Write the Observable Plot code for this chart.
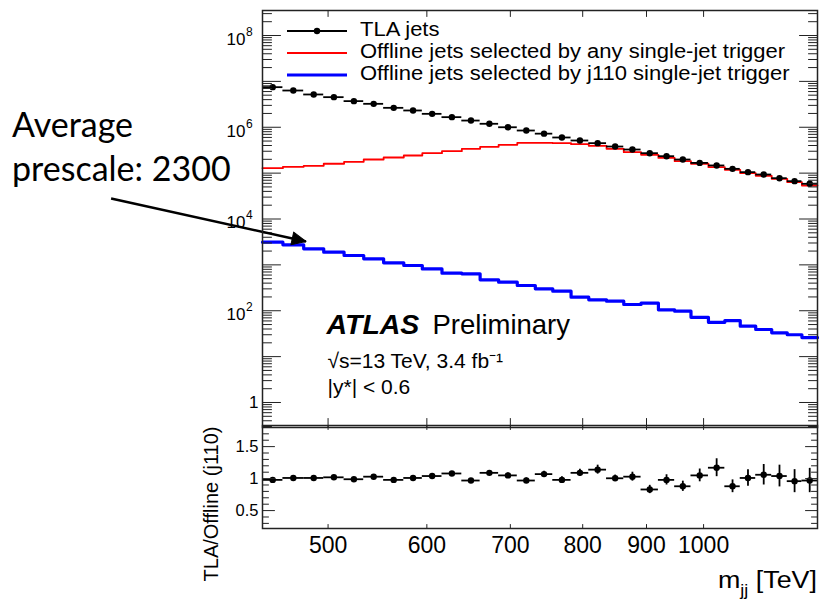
<!DOCTYPE html>
<html>
<head>
<meta charset="utf-8">
<script src="https://cdn.jsdelivr.net/npm/d3@7"></script>
<script src="https://cdn.jsdelivr.net/npm/@observablehq/plot@0.6"></script>
<style>
  html, body { margin: 0; padding: 0; background: #fff; }
  #chart { position: relative; width: 819px; height: 604px; overflow: hidden; background: #fff; }
  #chart > * { position: absolute; left: 0; }
  #main { top: 0; }
  #ratio { top: 425px; }
  #overlay { top: 0; pointer-events: none; }
</style>
</head>
<body>
<div id="chart">
  <div id="main"></div>
  <div id="ratio"></div>
  <svg id="overlay" width="819" height="604"></svg>
</div>
<script>
// Dijet invariant mass bin edges (values as labelled on the axis)
const binEdges = [443, 460, 478, 496, 515, 534, 554, 575, 595, 617, 640, 662, 685, 709, 733, 757,
                  783, 809, 836, 863, 891, 920, 948, 977, 1009, 1040, 1070, 1101, 1134, 1167, 1199, 1234];

// Events per bin: TLA jets
const tlaCounts = [7.48e6, 6.32e6, 5.18e6, 4.53e6, 3.71e6, 3.24e6, 2.65e6, 2.32e6, 1.96e6, 1.66e6,
                   1.40e6, 1.19e6, 1.00e6, 8.49e5, 7.25e5, 5.98e5, 5.14e5, 4.50e5, 3.80e5, 3.27e5,
                   2.72e5, 2.34e5, 1.98e5, 1.67e5, 1.47e5, 1.24e5, 1.05e5, 9.33e4, 7.76e4, 6.68e4, 5.85e4];

// Offline jets selected by any single-jet trigger
const anyTriggerCounts = [1.28e5, 1.37e5, 1.44e5, 1.60e5, 1.76e5, 1.98e5, 2.19e5, 2.42e5, 2.72e5, 3.01e5,
                          3.39e5, 3.74e5, 4.14e5, 4.57e5, 4.57e5, 4.50e5, 4.28e5, 3.94e5, 3.39e5, 2.86e5,
                          2.51e5, 2.15e5, 1.82e5, 1.60e5, 1.35e5, 1.18e5, 9.98e4, 8.73e4, 7.52e4, 6.35e4, 5.37e4];

// Offline jets selected by the j110 single-jet trigger
const j110Counts = [3126, 2735, 2239, 1892, 1600, 1355, 1109, 968, 818, 659,
                    638, 472, 420, 355, 301, 267, 198, 173, 162, 137,
                    146, 105, 98, 72, 56, 61, 46, 39, 33, 30, 26];

// TLA / Offline (j110) ratio and its uncertainty
const ratioValues = [0.98, 1.01, 1.01, 1.02, 0.99, 1.03, 0.98, 1.01, 1.04, 1.08,
                     0.97, 1.09, 1.05, 0.97, 1.07, 0.98, 1.09, 1.14, 1.005, 1.03,
                     0.83, 0.98, 0.88, 1.05, 1.17, 0.88, 1.01, 1.06, 1.04, 0.96, 0.97];
const ratioErrors = [0.01, 0.01, 0.012, 0.014, 0.015, 0.017, 0.02, 0.022, 0.025, 0.028,
                     0.03, 0.033, 0.036, 0.04, 0.045, 0.05, 0.055, 0.07, 0.05, 0.07,
                     0.065, 0.08, 0.08, 0.1, 0.14, 0.1, 0.13, 0.16, 0.17, 0.18, 0.19];

// Axis ticks and labels
const massTicks = [500, 600, 700, 800, 900, 1000];
const labelledDecades = [0, 2, 4, 6, 8];
const ratioLabels = [0.5, 1, 1.5];

// Legend entries
const seriesNames = ["TLA jets",
                     "Offline jets selected by any single-jet trigger",
                     "Offline jets selected by j110 single-jet trigger"];
const seriesColors = ["#000000", "#ff0000", "#0000ff"];
const seriesWidths = [1.8, 1.8, 3.2];

// Annotation
const noteLines = ["Average", "prescale: 2300"];
const arrowFrom = {x: 335, y: 2.8e4};
const arrowTo = {x: 480, y: 3232};

const bins = tlaCounts.map((v, i) => ({
  lo: binEdges[i], hi: binEdges[i + 1], mid: Math.sqrt(binEdges[i] * binEdges[i + 1]),
  tla: v, any: anyTriggerCounts[i], j110: j110Counts[i], ratio: ratioValues[i], err: ratioErrors[i]
}));
const stepPoints = key => [...bins.map(b => ({x: b.lo, y: b[key]})), {x: bins.at(-1).hi, y: bins.at(-1)[key]}];

const decadeTicks = d3.range(0, 9).map(k => 10 ** k);
const decadeMinor = d3.range(-1, 9).flatMap(k => d3.range(2, 10).map(m => m * 10 ** k))
  .filter(v => v > 10 ** -0.545 && v < 10 ** 8.545);
const ratioMajor = [0.5, 1, 1.5];
const ratioMinor = d3.range(3, 19).filter(t => t % 5 !== 0).map(t => t / 10);

const frameStroke = "#222";
const font = "'Liberation Sans', Arial, Helvetica, sans-serif";
const tickShape = {draw(context, l) { context.moveTo(0, 0); context.lineTo(0, -l); }};
const headShape = {draw(context, l) { context.moveTo(0, -l); context.lineTo(-6.5, 0); context.lineTo(6.5, 0); context.closePath(); }};

// inward-pointing ticks drawn along one side of the frame
function ticks(values, channel, side, length, strokeWidth = 1) {
  const rotate = {left: 90, right: -90, top: 180, bottom: 0}[side];
  return Plot.vector(values, {[channel]: d => d, frameAnchor: side, rotate, length, anchor: "start",
    shape: tickShape, stroke: frameStroke, strokeWidth});
}

const xDomain = [binEdges[0], binEdges.at(-1)];
const styleBase = {fontFamily: font, background: "transparent", overflow: "visible", color: "#000"};

const main = Plot.plot({
  width: 819, height: 430,
  marginLeft: 262, marginRight: 2, marginTop: 10, marginBottom: 3,
  x: {type: "log", domain: xDomain, axis: null},
  y: {type: "log", domain: [10 ** -0.545, 10 ** 8.545], axis: null},
  style: styleBase,
  marks: [
    Plot.line(stepPoints("j110"), {x: "x", y: "y", curve: "step-after", stroke: seriesColors[2], strokeWidth: seriesWidths[2]}),
    Plot.line(stepPoints("any"), {x: "x", y: "y", curve: "step-after", stroke: seriesColors[1], strokeWidth: seriesWidths[1]}),
    Plot.ruleY(bins, {y: "tla", x1: "lo", x2: "hi", stroke: seriesColors[0], strokeWidth: seriesWidths[0]}),
    Plot.dot(bins, {x: "mid", y: "tla", r: 3.2, fill: seriesColors[0]}),
    ticks(decadeTicks, "y", "left", 18),
    ticks(decadeMinor, "y", "left", 9),
    ticks(decadeTicks, "y", "right", 18),
    ticks(decadeMinor, "y", "right", 9),
    ticks(massTicks, "x", "top", 6),
    ticks(massTicks, "x", "bottom", 9),
    Plot.text(labelledDecades.filter(k => k > 0), {y: k => 10 ** k, text: () => "10", frameAnchor: "left",
      textAnchor: "end", lineAnchor: "middle", dx: -17, dy: 4, fontSize: 17}),
    Plot.text(labelledDecades.filter(k => k > 0), {y: k => 10 ** k, text: k => String(k), frameAnchor: "left",
      textAnchor: "start", lineAnchor: "middle", dx: -16.5, dy: -3.5, fontSize: 12}),
    Plot.text(labelledDecades.filter(k => k === 0), {y: k => 10 ** k, text: () => "1", frameAnchor: "left",
      textAnchor: "end", lineAnchor: "middle", dx: -4, dy: 0, fontSize: 17}),
    Plot.text(["ATLAS"], {text: d => d, frameAnchor: "top-left", textAnchor: "start", lineAnchor: "bottom",
      dx: 64, dy: 323, fontSize: 28.5, fontWeight: "bold", fontStyle: "italic"}),
    Plot.text(["Preliminary"], {text: d => d, frameAnchor: "top-left", textAnchor: "start", lineAnchor: "bottom",
      dx: 170, dy: 323, fontSize: 27.5}),
    Plot.text(["√s=13 TeV, 3.4 fb⁻¹"], {text: d => d, frameAnchor: "top-left", textAnchor: "start", lineAnchor: "bottom",
      dx: 65, dy: 357, fontSize: 21}),
    Plot.text(["|y*| < 0.6"], {text: d => d, frameAnchor: "top-left", textAnchor: "start", lineAnchor: "bottom",
      dx: 65, dy: 383, fontSize: 21}),
    Plot.link([{x1: arrowFrom.x, y1: arrowFrom.y, x2: arrowTo.x, y2: arrowTo.y}],
      {x1: "x1", y1: "y1", x2: "x2", y2: "y2", stroke: "#000", strokeWidth: 2.5}),
    Plot.vector([arrowTo], {x: "x", y: "y", anchor: "end", rotate: 102.4, length: 14, shape: headShape,
      fill: "#000", stroke: "#000", strokeWidth: 1}),
    Plot.frame({stroke: frameStroke, strokeWidth: 1.5})
  ]
});
document.getElementById("main").append(main);

const ratio = Plot.plot({
  width: 819, height: 179,
  marginLeft: 262, marginRight: 2, marginTop: 0, marginBottom: 76,
  x: {type: "log", domain: xDomain, axis: null},
  y: {domain: [0.22, 1.83], axis: null},
  style: styleBase,
  marks: [
    Plot.ruleY(bins, {y: "ratio", x1: "lo", x2: "hi", stroke: "#000", strokeWidth: 1.8}),
    Plot.ruleX(bins, {x: "mid", y1: d => d.ratio - d.err, y2: d => d.ratio + d.err, stroke: "#000", strokeWidth: 1.8}),
    Plot.dot(bins, {x: "mid", y: "ratio", r: 3.2, fill: "#000"}),
    ticks(ratioMajor, "y", "left", 12),
    ticks(ratioMinor, "y", "left", 6),
    ticks(ratioMajor, "y", "right", 12),
    ticks(ratioMinor, "y", "right", 6),
    ticks(massTicks, "x", "top", 4),
    ticks(massTicks, "x", "bottom", 4),
    Plot.text(ratioLabels, {y: d => d, text: d => String(d), frameAnchor: "left", textAnchor: "end",
      lineAnchor: "middle", dx: -4, fontSize: 16.5}),
    Plot.text(massTicks, {x: d => d, text: d => String(d), frameAnchor: "bottom", lineAnchor: "middle",
      dy: 17, fontSize: 23}),
    Plot.text(["TLA/Offline (j110)"], {text: d => d, frameAnchor: "left", rotate: -90, lineAnchor: "middle",
      textAnchor: "middle", dx: -51, dy: 27, fontSize: 20}),
    Plot.frame({stroke: frameStroke, strokeWidth: 1.5})
  ]
});
document.getElementById("ratio").append(ratio);

// Legend, annotation text and axis title
const overlay = d3.select("#overlay").attr("font-family", font);
const legendRows = seriesNames.map((name, i) => ({name, color: seriesColors[i], width: seriesWidths[i], i}));
const rowY = [31, 53, 75];
const rowBase = [36, 58, 80];
const lg = overlay.append("g");
lg.selectAll("line").data(legendRows).join("line")
  .attr("x1", 287).attr("x2", 347)
  .attr("y1", d => rowY[d.i]).attr("y2", d => rowY[d.i])
  .attr("stroke", d => d.color).attr("stroke-width", d => d.width);
lg.append("circle").attr("cx", 317).attr("cy", rowY[0]).attr("r", 3.2).attr("fill", "#000");
lg.selectAll("text").data(legendRows).join("text")
  .attr("x", 360).attr("y", d => rowBase[d.i])
  .attr("font-size", 20).attr("fill", "#000")
  .text(d => d.name)
  .each(function () {
    // the legend lettering is set slightly wide
    const w = this.getComputedTextLength();
    d3.select(this).attr("textLength", w * 1.1).attr("lengthAdjust", "spacingAndGlyphs");
  });

overlay.append("g").attr("font-family", "Lato, 'Open Sans', sans-serif").attr("font-size", 34).attr("fill", "#000")
  .selectAll("text").data(noteLines).join("text")
  .attr("x", 12).attr("y", (d, i) => 137 + i * 43.5)
  .text(d => d);

const xt = overlay.append("text").attr("transform", "translate(817,588) scale(1.12,1)")
  .attr("text-anchor", "end").attr("font-size", 24).attr("fill", "#000");
xt.append("tspan").text("m");
xt.append("tspan").attr("font-size", 16).attr("dy", 8).text("jj");
xt.append("tspan").attr("dy", -8).text(" [TeV]");
</script>
</body>
</html>
